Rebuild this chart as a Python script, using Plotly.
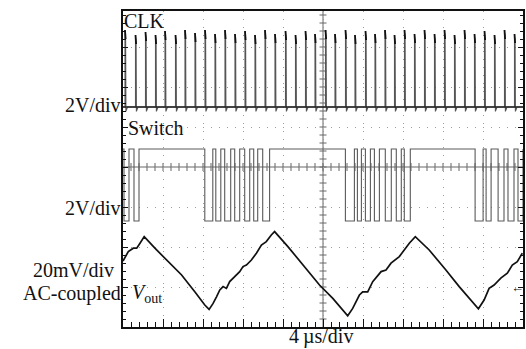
import plotly.graph_objects as go

# ---------------- data ----------------
# time base: 4 us/div, 10 divisions -> 0..40 us
clk_rise_us = [0.2, 1.25, 2.25, 3.25, 4.2, 5.25, 6.2, 7.2, 8.2, 9.2,
               10.2, 11.2, 12.2, 13.2, 14.2, 15.2, 16.25, 17.25, 18.25, 19.2,
               20.25, 21.2, 22.25, 23.2, 24.25, 25.2, 26.2, 27.15, 28.15, 29.15,
               30.15, 31.15, 32.15, 33.15, 34.15, 35.15, 36.15, 37.15, 38.15, 39.15]
clk_peak_v = [3.85, 3.6, 3.75, 3.6, 3.8, 3.6, 3.85, 3.7, 3.85, 3.65,
              3.85, 3.65, 3.8, 3.6, 3.85, 3.65, 3.8, 3.6, 3.8, 3.65,
              3.85, 3.65, 3.85, 3.6, 3.8, 3.65, 3.85, 3.6, 3.85, 3.65,
              3.85, 3.65, 3.85, 3.6, 3.85, 3.65, 3.8, 3.6, 3.85, 3.65]

sw_low_start_us = [0.1, 1.1,
                   8.18, 9.28, 10.17, 11.17, 12.17, 13.07, 13.97,
                   22.24, 23.44, 24.24, 25.14, 26.23, 27.33, 28.13,
                   35.21, 36.31, 37.51, 38.5, 39.5]
sw_low_end_us = [0.6, 1.6,
                 8.98, 9.78, 10.77, 11.67, 12.67, 13.47, 14.66,
                 23.14, 23.84, 24.74, 25.64, 26.83, 27.83, 28.73,
                 36.01, 36.81, 38.1, 39.1, 40.0]
sw_high_v = 3.6
sw_low_v = 0.0

vout_t_us = [0.0, 0.53, 1.03, 1.37, 1.70, 2.12, 3.19, 4.52, 5.86, 7.18, 8.18, 8.61,
             9.01, 9.35, 9.68, 10.01, 10.34, 10.67, 11.17, 11.67, 12.0, 12.34, 12.84,
             13.34, 13.84, 14.33, 14.83, 15.16, 16.49, 17.83, 19.65, 20.98, 22.47,
             22.97, 23.64, 23.97, 24.47, 24.97, 25.81, 26.30, 26.80, 27.63, 28.13,
             28.63, 29.23, 30.62, 32.29, 33.62, 35.54, 36.11, 36.61, 37.11, 37.78,
             38.43, 38.93, 39.43, 39.93]
vout_mv = [13.0, 17.7, 19.4, 19.4, 21.9, 25.2, 19.4, 12.7, 6.0, -2.4, -9.0, -11.2,
           -8.2, -4.9, -1.5, 0.2, -0.7, 2.7, 5.2, 7.7, 10.2, 11.0, 13.5,
           16.9, 21.0, 22.7, 26.0, 27.7, 20.2, 11.9, 1.0, -5.7, -14.4,
           -10.7, -4.0, -2.4, -2.4, 2.7, 7.7, 8.5, 11.9, 15.2, 18.5,
           21.9, 25.2, 18.5, 8.5, 0.2, -10.9, -6.5, -0.7, 1.0, 4.4,
           6.9, 11.0, 12.7, 16.9]

# channel vertical position (divisions from bottom) and scale per division
CLK_POS, CLK_SCALE = 5.5, 2.0      # V/div
SW_POS, SW_SCALE = 2.65, 2.0       # V/div
VOUT_POS, VOUT_SCALE = 1.0, 20.0   # mV/div
T_END = 40.0
N_DIV_Y = 7.9

# ---------------- build traces ----------------
cx, cy = [0.0], [CLK_POS]
tx, ty = [], []
for t, p in zip(clk_rise_us, clk_peak_v):
    cx += [t, t, t + 0.06, t + 0.09, t + 0.25]
    cy += [CLK_POS, CLK_POS + p / CLK_SCALE, CLK_POS + (p - 0.45) / CLK_SCALE,
           CLK_POS - 0.22 / CLK_SCALE, CLK_POS]
    tx += [t, t + 0.06, None]
    ty += [CLK_POS + p / CLK_SCALE, CLK_POS + (p - 0.45) / CLK_SCALE, None]
cx.append(T_END)
cy.append(CLK_POS)

hi = SW_POS + sw_high_v / SW_SCALE
lo = SW_POS + sw_low_v / SW_SCALE
sx, sy = [0.0], [hi]
for a, b in zip(sw_low_start_us, sw_low_end_us):
    sx += [a, a, b, b]
    sy += [hi, lo, lo, hi]
sx.append(T_END)
sy.append(hi)

vy = [VOUT_POS + v / VOUT_SCALE for v in vout_mv]

fig = go.Figure()
fig.add_trace(go.Scatter(x=sx, y=sy, mode="lines",
                         line=dict(color="#5a5a5a", width=1.1), hoverinfo="skip"))
fig.add_trace(go.Scatter(x=cx, y=cy, mode="lines",
                         line=dict(color="#555555", width=1.1), hoverinfo="skip"))
fig.add_trace(go.Scatter(x=tx, y=ty, mode="lines", connectgaps=False,
                         line=dict(color="#111111", width=1.8), hoverinfo="skip"))
fig.add_trace(go.Scatter(x=[0, T_END], y=[CLK_POS, CLK_POS], mode="lines",
                         line=dict(color="#222222", width=1.3), hoverinfo="skip"))
fig.add_trace(go.Scatter(x=vout_t_us, y=vy, mode="lines",
                         line=dict(color="#111111", width=1.7), hoverinfo="skip"))

# ---------------- centre crosshair with graticule ticks ----------------
shapes = [
    dict(type="line", xref="x", yref="y", x0=20, x1=20, y0=0, y1=N_DIV_Y,
         line=dict(color="#666666", width=1), layer="below"),
    dict(type="line", xref="x", yref="y", x0=0, x1=40, y0=4, y1=4,
         line=dict(color="#666666", width=1), layer="below"),
]
for k in range(1, 40):
    d = k * 0.2
    shapes.append(dict(type="line", xref="x", yref="y", x0=19.65, x1=20.35, y0=d, y1=d,
                       line=dict(color="#666666", width=1), layer="below"))
for k in range(1, 50):
    t = k * 0.8
    shapes.append(dict(type="line", xref="x", yref="y", x0=t, x1=t, y0=3.9, y1=4.1,
                       line=dict(color="#666666", width=1), layer="below"))

serif = "Liberation Serif, Times New Roman, serif"
W, H = 402.0, 316.0
def px(xp):
    return (xp - 123) / W
def py(yp):
    return (327 - yp) / H

def lab(text, x, y, xanchor, size=20, yanchor="middle"):
    return dict(text=text, xref="paper", yref="paper", x=x, y=y, xanchor=xanchor,
                yanchor=yanchor, showarrow=False, borderpad=0,
                font=dict(family=serif, size=size, color="#111111"))

annotations = [
    lab("CLK", px(123), py(21), "left"),
    lab("Switch", px(127), py(128), "left"),
    lab("2V/div", px(122), py(105), "right"),
    lab("2V/div", px(122), py(208), "right"),
    lab("20mV/div", px(115), py(270), "right"),
    lab("AC-coupled", px(122), py(293), "right"),
    lab("<i>V</i><sub>out</sub>", px(131), py(293), "left"),
    lab("4\u2009\u00b5s/div", px(322), py(349), "center", yanchor="bottom"),
    lab("\u2190", px(519), py(287), "center", size=13),
]

fig.update_layout(
    width=526, height=349,
    margin=dict(l=123, r=1, t=11, b=22),
    paper_bgcolor="white", plot_bgcolor="white",
    showlegend=False,
    shapes=shapes,
    annotations=annotations,
    xaxis=dict(range=[0, T_END], showticklabels=False, zeroline=False,
               showline=True, linecolor="#111111", linewidth=2, mirror=True,
               ticks="inside", dtick=4, tick0=0, ticklen=8, tickcolor="#111111",
               showgrid=True, gridcolor="#9a9a9a", griddash="1px,7px", gridwidth=1,
               minor=dict(dtick=0.8, ticks="inside", ticklen=5, tickcolor="#111111",
                          showgrid=False)),
    yaxis=dict(range=[0, N_DIV_Y], showticklabels=False, zeroline=False,
               showline=True, linecolor="#111111", linewidth=2, mirror="ticks",
               ticks="inside", dtick=1, tick0=0, ticklen=5, tickcolor="#111111",
               showgrid=True, gridcolor="#9a9a9a", griddash="1px,7px", gridwidth=1,
               minor=dict(dtick=0.2, ticks="inside", ticklen=3, tickcolor="#111111",
                          showgrid=False)),
)

fig.write_html("out.html")
